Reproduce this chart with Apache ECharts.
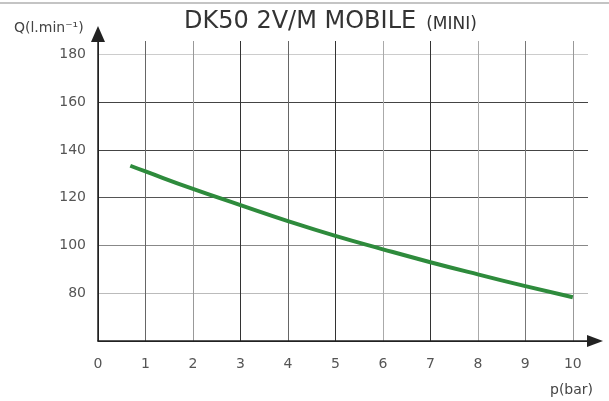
<!DOCTYPE html>
<html>
<head>
<meta charset="utf-8">
<script src="https://cdn.jsdelivr.net/npm/echarts@6/dist/echarts.min.js"></script>
<style>html,body{margin:0;padding:0;background:#fff;}#c{width:609px;height:401px;}</style>
</head>
<body>
<div id="c"></div>
<script>
var pressure = [0.68, 1, 2, 3, 4, 5, 6, 7, 8, 9, 10];
var flow = [133.4, 131.0, 123.7, 116.9, 110.2, 104.0, 98.4, 93.0, 87.9, 83.0, 78.3];
var xTicks = [0, 1, 2, 3, 4, 5, 6, 7, 8, 9, 10];
var yTicks = [60, 80, 100, 120, 140, 160, 180];
var yLabels = [80, 100, 120, 140, 160, 180];
var titleText = 'DK50 2V/M MOBILE';
var titleSub = '(MINI)';
var yName = 'Q(l.min⁻¹)';
var xName = 'p(bar)';

var FONT = 'DejaVu Sans';
var chart = echarts.init(document.getElementById('c'), null, {renderer: 'canvas'});
var data = pressure.map(function (p, i) { return [p, flow[i]]; });
chart.setOption({
  animation: false,
  backgroundColor: '#fff',
  title: [
    {text: '{a|' + titleText + '}  {b|' + titleSub + '}', left: 184, top: 10, padding: 0,
     textStyle: {fontWeight: 'normal',
                 rich: {a: {fontFamily: FONT, fontSize: 24, color: '#333', fontWeight: 'normal'},
                        b: {fontFamily: FONT, fontSize: 17, color: '#333', fontWeight: 'normal', padding: [5, 0, 0, 0]}}}},
    {text: yName, left: 14, top: 21, padding: 0, textStyle: {fontFamily: FONT, fontSize: 14, color: '#444', fontWeight: 'normal'}},
    {text: xName, left: 550, top: 383, padding: 0, textStyle: {fontFamily: FONT, fontSize: 14, color: '#444', fontWeight: 'normal'}}
  ],
  graphic: [{type: 'rect', shape: {x: 0, y: 2, width: 609, height: 2}, style: {fill: '#c4c4c4'}, silent: true}],
  grid: {left: 98, top: 41, width: 490, height: 300},
  xAxis: {
    type: 'value', min: 0, max: 10.32,
    axisLine: {show: true, lineStyle: {color: '#222', width: 1.5}, symbol: ['none', 'triangle'], symbolSize: [12, 16], symbolOffset: [0, 7]},
    axisTick: {show: false, customValues: xTicks},
    axisLabel: {customValues: xTicks, fontFamily: FONT, fontSize: 14, color: '#555', margin: 16},
    splitLine: {show: true, lineStyle: {width: 1, color: ['#222', '#666', '#999', '#333', '#666', '#333', '#aaa', '#333', '#aaa', '#777', '#999']}}
  },
  yAxis: {
    type: 'value', min: 60, max: 185.65,
    axisLine: {show: true, lineStyle: {color: '#222', width: 1.5}, symbol: ['none', 'triangle'], symbolSize: [14, 16], symbolOffset: [0, 7]},
    axisTick: {show: false, customValues: yTicks},
    axisLabel: {customValues: yLabels, fontFamily: FONT, fontSize: 14, color: '#555', margin: 12},
    splitLine: {show: true, lineStyle: {width: 1, color: ['#222', '#bbb', '#888', '#555', '#444', '#444', '#ccc']}}
  },
  series: [{
    type: 'line', data: data, smooth: 0.5, showSymbol: false,
    lineStyle: {color: '#2e8b3c', width: 4}, z: 5
  }]
});
</script>
</body>
</html>
